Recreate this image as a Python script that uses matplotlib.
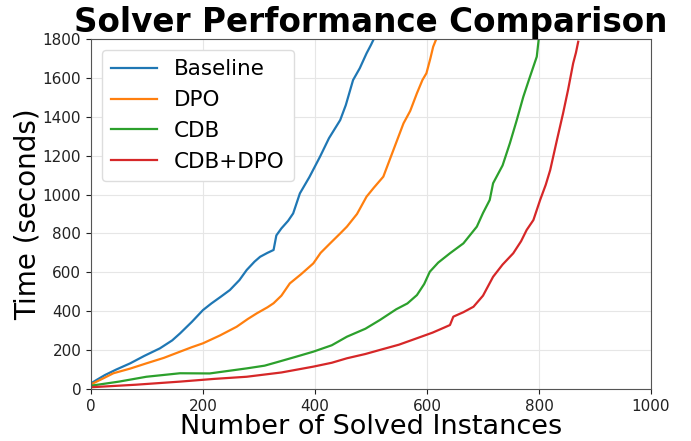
import matplotlib
matplotlib.use("Agg")
import matplotlib.pyplot as plt

# Data (number of solved instances, cumulative time in s)
baseline_x = [0, 12, 25, 45, 70, 95, 123, 145, 159, 180, 200, 215, 232, 248, 265, 278, 292, 302, 315, 326, 331, 340, 352, 361, 373, 390, 409, 425, 445, 455, 468, 480, 492, 500, 505]
baseline_y = [29, 50, 72, 100, 132, 170, 209, 250, 286, 345, 406, 440, 475, 509, 560, 612, 655, 680, 700, 715, 790, 826, 865, 903, 1006, 1090, 1195, 1290, 1383, 1460, 1589, 1650, 1726, 1770, 1800]

dpo_x = [0, 20, 40, 70, 99, 130, 159, 180, 200, 230, 260, 280, 296, 315, 326, 340, 355, 375, 397, 410, 427, 445, 457, 475, 492, 505, 522, 540, 558, 570, 582, 592, 599, 606, 611, 617]
dpo_y = [24, 52, 81, 105, 132, 160, 192, 215, 235, 275, 320, 360, 389, 420, 441, 480, 543, 590, 646, 700, 749, 800, 835, 900, 989, 1035, 1092, 1229, 1366, 1430, 1521, 1590, 1624, 1700, 1760, 1803]

cdb_x = [0, 50, 99, 159, 212, 250, 278, 310, 331, 365, 397, 430, 457, 490, 516, 545, 565, 582, 595, 605, 620, 641, 665, 689, 700, 712, 718, 735, 748, 760, 772, 782, 790, 796, 800]
cdb_y = [17, 38, 63, 81, 80, 95, 106, 120, 137, 165, 192, 225, 269, 310, 355, 410, 440, 483, 540, 603, 650, 698, 749, 835, 905, 972, 1058, 1150, 1264, 1380, 1503, 1590, 1658, 1709, 1812]

cdbdpo_x = [0, 80, 159, 220, 278, 340, 397, 430, 457, 490, 516, 550, 582, 610, 630, 641, 647, 665, 683, 700, 718, 735, 754, 768, 778, 790, 802, 812, 820, 832, 843, 852, 861, 866, 870]
cdbdpo_y = [9, 22, 38, 52, 63, 85, 115, 135, 158, 180, 201, 228, 261, 290, 315, 329, 372, 395, 423, 480, 577, 640, 698, 760, 818, 869, 972, 1050, 1126, 1280, 1418, 1540, 1675, 1730, 1786]

series = [("Baseline", baseline_x, baseline_y, "#1f77b4"),
          ("DPO", dpo_x, dpo_y, "#ff7f0e"),
          ("CDB", cdb_x, cdb_y, "#2ca02c"),
          ("CDB+DPO", cdbdpo_x, cdbdpo_y, "#d62728")]

fig = plt.figure(figsize=(6.91, 4.41), dpi=100)
ax = fig.add_axes([91/691, 1-389/441, 560/691, 350/441])

for name, xs, ys, c in series:
    ax.plot(xs, ys, color=c, linewidth=1.6, label=name)

ax.set_xlim(0, 1000)
ax.set_ylim(0, 1800)
ax.set_xticks([0, 200, 400, 600, 800, 1000])
ax.set_yticks(range(0, 1801, 200))
ax.tick_params(labelsize=11, colors="#222222")
ax.grid(True, color="#e6e6e6", linewidth=0.8)
for s in ax.spines.values():
    s.set_color("#555555")

ax.set_title("Solver Performance Comparison", fontsize=23.5, fontweight="bold", pad=4)
ax.set_xlabel("Number of Solved Instances", fontsize=19.5, labelpad=0)
ax.set_ylabel("Time (seconds)", fontsize=20, labelpad=1)
ax.legend(loc="upper left", fontsize=15.5, handlelength=2.1, borderpad=0.45,
          labelspacing=0.5, framealpha=1, edgecolor="#dddddd")

fig.savefig("out.png", dpi=100)
